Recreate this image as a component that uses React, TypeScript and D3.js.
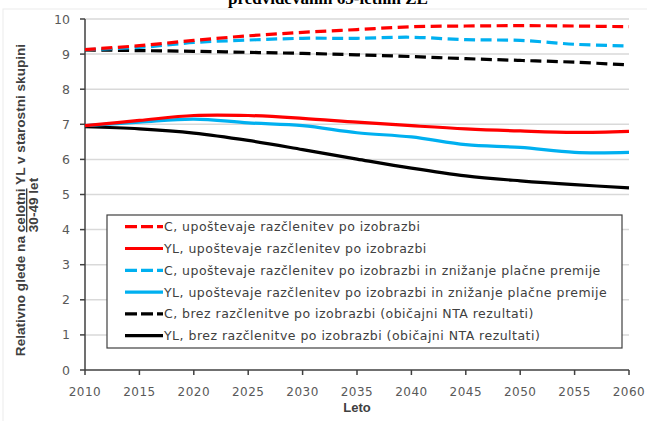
import React from "react";
import * as d3 from "d3";

const years = [2010, 2015, 2020, 2025, 2030, 2035, 2040, 2045, 2050, 2055, 2060];
const cEdu = [9.13, 9.24, 9.39, 9.52, 9.62, 9.70, 9.78, 9.80, 9.81, 9.80, 9.78];
const ylEdu = [6.96, 7.11, 7.25, 7.25, 7.17, 7.06, 6.96, 6.87, 6.81, 6.77, 6.80];
const cEduWage = [9.13, 9.19, 9.33, 9.40, 9.45, 9.45, 9.48, 9.41, 9.39, 9.28, 9.23];
const ylEduWage = [6.96, 7.06, 7.15, 7.04, 6.96, 6.76, 6.64, 6.42, 6.34, 6.20, 6.20];
const cNoEdu = [9.12, 9.10, 9.08, 9.05, 9.02, 8.98, 8.93, 8.87, 8.82, 8.77, 8.69];
const ylNoEdu = [6.93, 6.87, 6.75, 6.54, 6.28, 6.01, 5.75, 5.53, 5.39, 5.28, 5.19];

const yTicks = [0, 1, 2, 3, 4, 5, 6, 7, 8, 9, 10];

const seriesLabels = [
  "C, upoštevaje razčlenitev po izobrazbi",
  "YL, upoštevaje razčlenitev po izobrazbi",
  "C, upoštevaje razčlenitev po izobrazbi in znižanje plačne premije",
  "YL, upoštevaje razčlenitev po izobrazbi in znižanje plačne premije",
  "C, brez razčlenitve po izobrazbi (običajni NTA rezultati)",
  "YL, brez razčlenitve po izobrazbi (običajni NTA rezultati)",
];
const seriesValues = [cEdu, ylEdu, cEduWage, ylEduWage, cNoEdu, ylNoEdu];
const seriesColors = ["#FF0000", "#FF0000", "#00B0F0", "#00B0F0", "#000000", "#000000"];
const seriesDashed = [true, false, true, false, true, false];

export default function App() {
  const W = 647;
  const H = 421;
  const x = d3.scaleLinear().domain([2010, 2060]).range([85, 629]);
  const y = d3.scaleLinear().domain([0, 10]).range([370, 19]);
  const line = d3
    .line<number>()
    .x((_, i) => x(years[i]))
    .y((v) => y(v))
    .curve(d3.curveCardinal.tension(0));

  const font = "'DejaVu Sans', Verdana, sans-serif";
  const boldFont = "'Liberation Sans', Arial, sans-serif";
  const dash = "11,5.5";

  const order = [5, 4, 3, 2, 1, 0];

  const legX = 107;
  const legY = 215;
  const legW = 515;
  const legH = 133;
  const rowY0 = 226.7;
  const rowStep = 21.8;

  return (
    <div style={{ position: "absolute", left: 0, top: 0, width: W, height: H, overflow: "hidden" }}>
      <svg width={W} height={H} style={{ display: "block", background: "#fff" }}>
        <rect x={3} y={9} width={W} height={H} fill="none" stroke="#ececec" strokeWidth={1} />
        <text
          x={228}
          y={4}
          fontFamily="'Liberation Serif', 'DejaVu Serif', serif"
          fontSize={17}
          fontWeight="bold"
          fill="#000"
        >
          predvidevanih 65-letnih ZL
        </text>

        {yTicks.slice(1).map((t) => (
          <line key={"g" + t} x1={85} x2={629} y1={y(t)} y2={y(t)} stroke="#d9d9d9" strokeWidth={1.5} />
        ))}

        <line x1={85} x2={85} y1={y(10)} y2={y(0)} stroke="#404040" strokeWidth={1.5} />
        <line x1={85} x2={629} y1={y(0)} y2={y(0)} stroke="#404040" strokeWidth={1.5} />
        {yTicks.map((t) => (
          <g key={"yt" + t}>
            <line x1={80} x2={85} y1={y(t)} y2={y(t)} stroke="#404040" strokeWidth={1.5} />
            <text
              x={70}
              y={y(t)}
              dy="0.36em"
              textAnchor="end"
              fontFamily={font}
              fontSize={12.5}
              fill="#595959"
            >
              {t}
            </text>
          </g>
        ))}
        {years.map((yr) => (
          <g key={"xt" + yr}>
            <line x1={x(yr)} x2={x(yr)} y1={370} y2={375} stroke="#404040" strokeWidth={1.5} />
            <text
              x={x(yr)}
              y={396}
              textAnchor="middle"
              fontFamily={font}
              fontSize={12}
              letterSpacing={0.5}
              fill="#595959"
            >
              {yr}
            </text>
          </g>
        ))}

        {order.map((i) => (
          <path
            key={"s" + i}
            d={line(seriesValues[i]) || ""}
            fill="none"
            stroke={seriesColors[i]}
            strokeWidth={3.2}
            strokeDasharray={seriesDashed[i] ? dash : undefined}
            strokeLinejoin="round"
          />
        ))}

        <rect x={legX} y={legY} width={legW} height={legH} fill="#fff" stroke="#404040" strokeWidth={1.2} />
        {seriesLabels.map((lab, i) => {
          const ry = rowY0 + i * rowStep;
          return (
            <g key={"l" + i}>
              <line
                x1={125}
                x2={163}
                y1={ry}
                y2={ry}
                stroke={seriesColors[i]}
                strokeWidth={3.2}
                strokeDasharray={seriesDashed[i] ? "12,4" : undefined}
              />
              <text
                x={164}
                y={ry}
                dy="0.36em"
                fontFamily={font}
                fontSize={12.5}
                letterSpacing={0.48}
                fill="#404040"
              >
                {lab}
              </text>
            </g>
          );
        })}

        <text
          transform="translate(25,200) rotate(-90)"
          textAnchor="middle"
          fontFamily={boldFont}
          fontWeight="bold"
          fontSize={13.6}
          fill="#404040"
        >
          Relativno glede na <tspan textDecoration="underline">celotni</tspan> YL v starostni skupini
        </text>
        <text
          transform="translate(38,205) rotate(-90)"
          textAnchor="middle"
          fontFamily={boldFont}
          fontWeight="bold"
          fontSize={13.6}
          fill="#404040"
        >
          30-49 let
        </text>
        <text
          x={357}
          y={412}
          textAnchor="middle"
          fontFamily={boldFont}
          fontWeight="bold"
          fontSize={13}
          fill="#404040"
        >
          Leto
        </text>
      </svg>
    </div>
  );
}
